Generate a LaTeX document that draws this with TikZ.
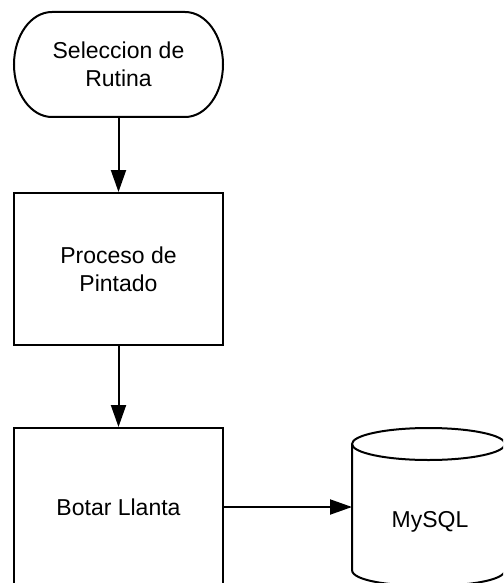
\documentclass[tikz,border=0pt]{standalone}
\usepackage{fontspec}
\setmainfont{Liberation Sans}
\usetikzlibrary{arrows.meta}
\begin{document}
\begin{tikzpicture}[x=1pt,y=-1pt,
  box/.style={draw, line width=2pt, align=center, inner sep=0pt,
    minimum width=209pt, font=\fontsize{23}{28}\selectfont},
  lbl/.style={inner sep=0pt, align=center, font=\fontsize{23}{28}\selectfont},
  conn/.style={line width=2pt, -{Triangle[length=22pt,width=15pt]}},
  shapeline/.style={line width=2pt}]
\useasboundingbox (0,0) rectangle (503,583);
\clip (0,0) rectangle (503,583);
% terminal (stadium with elliptical ends)
\draw[shapeline] (52,12) -- (185,12)
  .. controls (206,12) and (223,35.5) .. (223,64.5)
  .. controls (223,93.5) and (206,117) .. (185,117)
  -- (52,117)
  .. controls (31,117) and (14,93.5) .. (14,64.5)
  .. controls (14,35.5) and (31,12) .. cycle;
\node[lbl, minimum width=209pt, minimum height=105pt] (sel) at (118.5,64.5) {Seleccion de\\Rutina};
\node[box, minimum height=152pt] (pin) at (118.5,269) {Proceso de\\Pintado};
\node[box, minimum height=158pt] (bot) at (118.5,507) {Botar Llanta};
% cylinder
\draw[shapeline] (428.5,444) ellipse [x radius=76.5, y radius=16];
\draw[shapeline] (352,444) -- (352,570) .. controls (352,591.3) and (505,591.3) .. (505,570) -- (505,444);
\coordinate (dbin) at (352,507);
\node[lbl] (db) at (430,522) {MySQL};
\draw[conn] (sel) -- (pin);
\draw[conn] (pin) -- (bot);
\draw[conn] (bot.east) -- (dbin);
\end{tikzpicture}
\end{document}
